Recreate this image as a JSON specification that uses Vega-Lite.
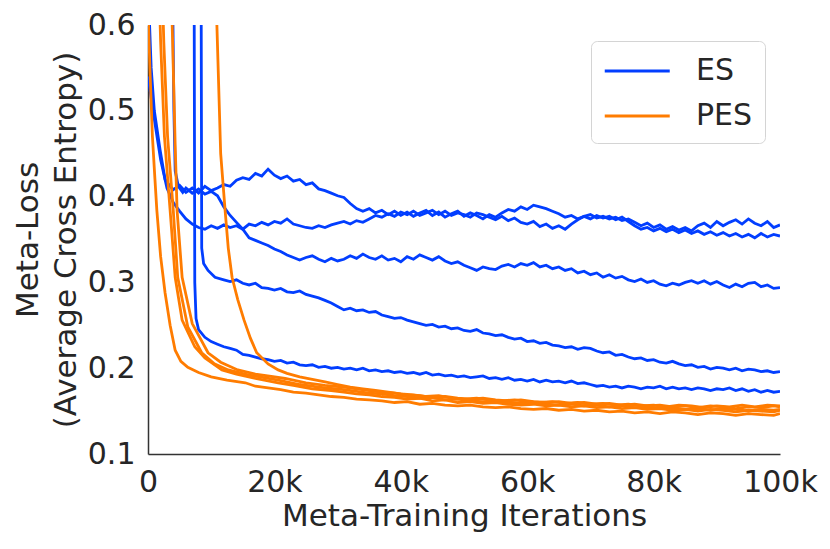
{
  "$schema": "https://vega.github.io/schema/vega-lite/v6.json",
  "width": 632,
  "height": 429,
  "autosize": {"type": "none"},
  "padding": {"left": 148, "top": 25, "right": 50, "bottom": 95},
  "background": "white",
  "config": {
    "view": {"stroke": null},
    "font": "DejaVu Sans",
    "axis": {
      "grid": false,
      "ticks": false,
      "domainColor": "#333333",
      "domainWidth": 1.5,
      "labelFontSize": 30,
      "titleFontSize": 31,
      "labelColor": "#262626",
      "titleColor": "#262626",
      "titleFontWeight": "normal",
      "labelFlush": false
    }
  },
  "datasets": {
    "es": [
      {"s":"a","x":0,"y":0.65},{"s":"a","x":0.5,"y":0.55},{"s":"a","x":1,"y":0.5},{"s":"a","x":1.9,"y":0.455},{"s":"a","x":2.7,"y":0.42},{"s":"a","x":3.5,"y":0.412},{"s":"a","x":4,"y":0.408},{"s":"a","x":5,"y":0.413},{"s":"a","x":6,"y":0.405},{"s":"a","x":7,"y":0.41},{"s":"a","x":8,"y":0.404},{"s":"a","x":9,"y":0.412},{"s":"a","x":10,"y":0.407},{"s":"a","x":11,"y":0.41},{"s":"a","x":12,"y":0.414},{"s":"a","x":13,"y":0.412},{"s":"a","x":14,"y":0.419},{"s":"a","x":15,"y":0.422},{"s":"a","x":16,"y":0.42},{"s":"a","x":17,"y":0.427},{"s":"a","x":18,"y":0.424},{"s":"a","x":19,"y":0.432},{"s":"a","x":20,"y":0.425},{"s":"a","x":21,"y":0.421},{"s":"a","x":22,"y":0.424},{"s":"a","x":23,"y":0.418},{"s":"a","x":24,"y":0.42},{"s":"a","x":25,"y":0.414},{"s":"a","x":26,"y":0.416},{"s":"a","x":27,"y":0.409},{"s":"a","x":28,"y":0.407},{"s":"a","x":29,"y":0.404},{"s":"a","x":30,"y":0.401},{"s":"a","x":31,"y":0.399},{"s":"a","x":32,"y":0.392},{"s":"a","x":33,"y":0.386},{"s":"a","x":34,"y":0.383},{"s":"a","x":35,"y":0.386},{"s":"a","x":36,"y":0.381},{"s":"a","x":37,"y":0.384},{"s":"a","x":38,"y":0.379},{"s":"a","x":39,"y":0.383},{"s":"a","x":40,"y":0.378},{"s":"a","x":41,"y":0.382},{"s":"a","x":42,"y":0.377},{"s":"a","x":43,"y":0.381},{"s":"a","x":44,"y":0.384},{"s":"a","x":45,"y":0.378},{"s":"a","x":46,"y":0.382},{"s":"a","x":47,"y":0.376},{"s":"a","x":48,"y":0.38},{"s":"a","x":49,"y":0.383},{"s":"a","x":50,"y":0.377},{"s":"a","x":51,"y":0.381},{"s":"a","x":52,"y":0.378},{"s":"a","x":53,"y":0.374},{"s":"a","x":54,"y":0.379},{"s":"a","x":55,"y":0.376},{"s":"a","x":56,"y":0.381},{"s":"a","x":57,"y":0.385},{"s":"a","x":58,"y":0.383},{"s":"a","x":59,"y":0.388},{"s":"a","x":60,"y":0.385},{"s":"a","x":61,"y":0.39},{"s":"a","x":62,"y":0.388},{"s":"a","x":63,"y":0.386},{"s":"a","x":64,"y":0.383},{"s":"a","x":65,"y":0.38},{"s":"a","x":66,"y":0.376},{"s":"a","x":67,"y":0.378},{"s":"a","x":68,"y":0.374},{"s":"a","x":69,"y":0.377},{"s":"a","x":70,"y":0.379},{"s":"a","x":71,"y":0.375},{"s":"a","x":72,"y":0.377},{"s":"a","x":73,"y":0.374},{"s":"a","x":74,"y":0.376},{"s":"a","x":75,"y":0.372},{"s":"a","x":76,"y":0.374},{"s":"a","x":77,"y":0.37},{"s":"a","x":78,"y":0.366},{"s":"a","x":79,"y":0.369},{"s":"a","x":80,"y":0.364},{"s":"a","x":81,"y":0.367},{"s":"a","x":82,"y":0.362},{"s":"a","x":83,"y":0.365},{"s":"a","x":84,"y":0.361},{"s":"a","x":85,"y":0.364},{"s":"a","x":86,"y":0.36},{"s":"a","x":87,"y":0.366},{"s":"a","x":88,"y":0.369},{"s":"a","x":89,"y":0.364},{"s":"a","x":90,"y":0.371},{"s":"a","x":91,"y":0.366},{"s":"a","x":92,"y":0.37},{"s":"a","x":93,"y":0.373},{"s":"a","x":94,"y":0.368},{"s":"a","x":95,"y":0.374},{"s":"a","x":96,"y":0.369},{"s":"a","x":97,"y":0.366},{"s":"a","x":98,"y":0.371},{"s":"a","x":99,"y":0.364},{"s":"a","x":100,"y":0.367},
      {"s":"b","x":0,"y":0.54},{"s":"b","x":1,"y":0.49},{"s":"b","x":2,"y":0.443},{"s":"b","x":3,"y":0.41},{"s":"b","x":4,"y":0.393},{"s":"b","x":5,"y":0.383},{"s":"b","x":6,"y":0.374},{"s":"b","x":7,"y":0.368},{"s":"b","x":8,"y":0.364},{"s":"b","x":9,"y":0.362},{"s":"b","x":10,"y":0.366},{"s":"b","x":11,"y":0.363},{"s":"b","x":12,"y":0.367},{"s":"b","x":13,"y":0.364},{"s":"b","x":14,"y":0.366},{"s":"b","x":15,"y":0.362},{"s":"b","x":16,"y":0.368},{"s":"b","x":17,"y":0.366},{"s":"b","x":18,"y":0.37},{"s":"b","x":19,"y":0.367},{"s":"b","x":20,"y":0.371},{"s":"b","x":21,"y":0.369},{"s":"b","x":22,"y":0.374},{"s":"b","x":23,"y":0.368},{"s":"b","x":24,"y":0.366},{"s":"b","x":25,"y":0.364},{"s":"b","x":26,"y":0.363},{"s":"b","x":27,"y":0.366},{"s":"b","x":28,"y":0.364},{"s":"b","x":29,"y":0.367},{"s":"b","x":30,"y":0.369},{"s":"b","x":31,"y":0.371},{"s":"b","x":32,"y":0.368},{"s":"b","x":33,"y":0.372},{"s":"b","x":34,"y":0.37},{"s":"b","x":35,"y":0.374},{"s":"b","x":36,"y":0.378},{"s":"b","x":37,"y":0.376},{"s":"b","x":38,"y":0.38},{"s":"b","x":39,"y":0.377},{"s":"b","x":40,"y":0.382},{"s":"b","x":41,"y":0.379},{"s":"b","x":42,"y":0.383},{"s":"b","x":43,"y":0.378},{"s":"b","x":44,"y":0.381},{"s":"b","x":45,"y":0.384},{"s":"b","x":46,"y":0.379},{"s":"b","x":47,"y":0.383},{"s":"b","x":48,"y":0.378},{"s":"b","x":49,"y":0.381},{"s":"b","x":50,"y":0.379},{"s":"b","x":51,"y":0.376},{"s":"b","x":52,"y":0.381},{"s":"b","x":53,"y":0.379},{"s":"b","x":54,"y":0.376},{"s":"b","x":55,"y":0.373},{"s":"b","x":56,"y":0.377},{"s":"b","x":57,"y":0.372},{"s":"b","x":58,"y":0.375},{"s":"b","x":59,"y":0.37},{"s":"b","x":60,"y":0.368},{"s":"b","x":61,"y":0.371},{"s":"b","x":62,"y":0.365},{"s":"b","x":63,"y":0.368},{"s":"b","x":64,"y":0.363},{"s":"b","x":65,"y":0.366},{"s":"b","x":66,"y":0.362},{"s":"b","x":67,"y":0.368},{"s":"b","x":68,"y":0.373},{"s":"b","x":69,"y":0.377},{"s":"b","x":70,"y":0.374},{"s":"b","x":71,"y":0.378},{"s":"b","x":72,"y":0.375},{"s":"b","x":73,"y":0.377},{"s":"b","x":74,"y":0.373},{"s":"b","x":75,"y":0.376},{"s":"b","x":76,"y":0.371},{"s":"b","x":77,"y":0.366},{"s":"b","x":78,"y":0.362},{"s":"b","x":79,"y":0.364},{"s":"b","x":80,"y":0.36},{"s":"b","x":81,"y":0.363},{"s":"b","x":82,"y":0.359},{"s":"b","x":83,"y":0.362},{"s":"b","x":84,"y":0.358},{"s":"b","x":85,"y":0.361},{"s":"b","x":86,"y":0.357},{"s":"b","x":87,"y":0.36},{"s":"b","x":88,"y":0.356},{"s":"b","x":89,"y":0.359},{"s":"b","x":90,"y":0.355},{"s":"b","x":91,"y":0.358},{"s":"b","x":92,"y":0.354},{"s":"b","x":93,"y":0.357},{"s":"b","x":94,"y":0.353},{"s":"b","x":95,"y":0.356},{"s":"b","x":96,"y":0.352},{"s":"b","x":97,"y":0.357},{"s":"b","x":98,"y":0.353},{"s":"b","x":99,"y":0.356},{"s":"b","x":100,"y":0.354},
      {"s":"c","x":3.8,"y":0.7},{"s":"c","x":4.1,"y":0.5},{"s":"c","x":4.3,"y":0.43},{"s":"c","x":4.8,"y":0.412},{"s":"c","x":5.5,"y":0.405},{"s":"c","x":6,"y":0.41},{"s":"c","x":7,"y":0.404},{"s":"c","x":8,"y":0.409},{"s":"c","x":9,"y":0.403},{"s":"c","x":10,"y":0.406},{"s":"c","x":11,"y":0.401},{"s":"c","x":12,"y":0.388},{"s":"c","x":13,"y":0.378},{"s":"c","x":14,"y":0.37},{"s":"c","x":15,"y":0.362},{"s":"c","x":16,"y":0.352},{"s":"c","x":17,"y":0.349},{"s":"c","x":18,"y":0.346},{"s":"c","x":19,"y":0.343},{"s":"c","x":20,"y":0.339},{"s":"c","x":21,"y":0.336},{"s":"c","x":22,"y":0.332},{"s":"c","x":23,"y":0.329},{"s":"c","x":24,"y":0.326},{"s":"c","x":25,"y":0.329},{"s":"c","x":26,"y":0.331},{"s":"c","x":27,"y":0.327},{"s":"c","x":28,"y":0.324},{"s":"c","x":29,"y":0.328},{"s":"c","x":30,"y":0.325},{"s":"c","x":31,"y":0.327},{"s":"c","x":32,"y":0.331},{"s":"c","x":33,"y":0.328},{"s":"c","x":34,"y":0.333},{"s":"c","x":35,"y":0.329},{"s":"c","x":36,"y":0.327},{"s":"c","x":37,"y":0.331},{"s":"c","x":38,"y":0.326},{"s":"c","x":39,"y":0.328},{"s":"c","x":40,"y":0.324},{"s":"c","x":41,"y":0.33},{"s":"c","x":42,"y":0.327},{"s":"c","x":43,"y":0.332},{"s":"c","x":44,"y":0.329},{"s":"c","x":45,"y":0.326},{"s":"c","x":46,"y":0.33},{"s":"c","x":47,"y":0.325},{"s":"c","x":48,"y":0.322},{"s":"c","x":49,"y":0.324},{"s":"c","x":50,"y":0.32},{"s":"c","x":51,"y":0.317},{"s":"c","x":52,"y":0.314},{"s":"c","x":53,"y":0.318},{"s":"c","x":54,"y":0.316},{"s":"c","x":55,"y":0.315},{"s":"c","x":56,"y":0.319},{"s":"c","x":57,"y":0.321},{"s":"c","x":58,"y":0.318},{"s":"c","x":59,"y":0.322},{"s":"c","x":60,"y":0.32},{"s":"c","x":61,"y":0.323},{"s":"c","x":62,"y":0.318},{"s":"c","x":63,"y":0.32},{"s":"c","x":64,"y":0.316},{"s":"c","x":65,"y":0.318},{"s":"c","x":66,"y":0.314},{"s":"c","x":67,"y":0.316},{"s":"c","x":68,"y":0.311},{"s":"c","x":69,"y":0.313},{"s":"c","x":70,"y":0.309},{"s":"c","x":71,"y":0.311},{"s":"c","x":72,"y":0.306},{"s":"c","x":73,"y":0.309},{"s":"c","x":74,"y":0.305},{"s":"c","x":75,"y":0.307},{"s":"c","x":76,"y":0.303},{"s":"c","x":77,"y":0.301},{"s":"c","x":78,"y":0.304},{"s":"c","x":79,"y":0.3},{"s":"c","x":80,"y":0.302},{"s":"c","x":81,"y":0.298},{"s":"c","x":82,"y":0.296},{"s":"c","x":83,"y":0.299},{"s":"c","x":84,"y":0.297},{"s":"c","x":85,"y":0.3},{"s":"c","x":86,"y":0.302},{"s":"c","x":87,"y":0.299},{"s":"c","x":88,"y":0.302},{"s":"c","x":89,"y":0.298},{"s":"c","x":90,"y":0.301},{"s":"c","x":91,"y":0.297},{"s":"c","x":92,"y":0.294},{"s":"c","x":93,"y":0.298},{"s":"c","x":94,"y":0.295},{"s":"c","x":95,"y":0.299},{"s":"c","x":96,"y":0.3},{"s":"c","x":97,"y":0.295},{"s":"c","x":98,"y":0.297},{"s":"c","x":99,"y":0.293},{"s":"c","x":100,"y":0.294},
      {"s":"d","x":8.3,"y":1.0},{"s":"d","x":8.5,"y":0.34},{"s":"d","x":8.8,"y":0.322},{"s":"d","x":9.5,"y":0.314},{"s":"d","x":10.6,"y":0.306},{"s":"d","x":12,"y":0.303},{"s":"d","x":13,"y":0.301},{"s":"d","x":14,"y":0.303},{"s":"d","x":15,"y":0.299},{"s":"d","x":16,"y":0.297},{"s":"d","x":17,"y":0.299},{"s":"d","x":18,"y":0.294},{"s":"d","x":19,"y":0.293},{"s":"d","x":20,"y":0.291},{"s":"d","x":21,"y":0.293},{"s":"d","x":22,"y":0.289},{"s":"d","x":23,"y":0.288},{"s":"d","x":24,"y":0.29},{"s":"d","x":25,"y":0.286},{"s":"d","x":26,"y":0.284},{"s":"d","x":27,"y":0.282},{"s":"d","x":28,"y":0.279},{"s":"d","x":29,"y":0.276},{"s":"d","x":30,"y":0.272},{"s":"d","x":31,"y":0.268},{"s":"d","x":32,"y":0.27},{"s":"d","x":33,"y":0.267},{"s":"d","x":34,"y":0.268},{"s":"d","x":35,"y":0.265},{"s":"d","x":36,"y":0.266},{"s":"d","x":37,"y":0.262},{"s":"d","x":38,"y":0.26},{"s":"d","x":39,"y":0.258},{"s":"d","x":40,"y":0.259},{"s":"d","x":41,"y":0.256},{"s":"d","x":42,"y":0.254},{"s":"d","x":43,"y":0.252},{"s":"d","x":44,"y":0.25},{"s":"d","x":45,"y":0.251},{"s":"d","x":46,"y":0.248},{"s":"d","x":47,"y":0.249},{"s":"d","x":48,"y":0.246},{"s":"d","x":49,"y":0.247},{"s":"d","x":50,"y":0.244},{"s":"d","x":51,"y":0.243},{"s":"d","x":52,"y":0.245},{"s":"d","x":53,"y":0.241},{"s":"d","x":54,"y":0.24},{"s":"d","x":55,"y":0.238},{"s":"d","x":56,"y":0.239},{"s":"d","x":57,"y":0.236},{"s":"d","x":58,"y":0.234},{"s":"d","x":59,"y":0.235},{"s":"d","x":60,"y":0.231},{"s":"d","x":61,"y":0.232},{"s":"d","x":62,"y":0.229},{"s":"d","x":63,"y":0.23},{"s":"d","x":64,"y":0.227},{"s":"d","x":65,"y":0.226},{"s":"d","x":66,"y":0.224},{"s":"d","x":67,"y":0.225},{"s":"d","x":68,"y":0.222},{"s":"d","x":69,"y":0.224},{"s":"d","x":70,"y":0.223},{"s":"d","x":71,"y":0.22},{"s":"d","x":72,"y":0.218},{"s":"d","x":73,"y":0.219},{"s":"d","x":74,"y":0.215},{"s":"d","x":75,"y":0.216},{"s":"d","x":76,"y":0.213},{"s":"d","x":77,"y":0.211},{"s":"d","x":78,"y":0.212},{"s":"d","x":79,"y":0.209},{"s":"d","x":80,"y":0.21},{"s":"d","x":81,"y":0.207},{"s":"d","x":82,"y":0.206},{"s":"d","x":83,"y":0.208},{"s":"d","x":84,"y":0.205},{"s":"d","x":85,"y":0.203},{"s":"d","x":86,"y":0.204},{"s":"d","x":87,"y":0.201},{"s":"d","x":88,"y":0.202},{"s":"d","x":89,"y":0.199},{"s":"d","x":90,"y":0.201},{"s":"d","x":91,"y":0.2},{"s":"d","x":92,"y":0.198},{"s":"d","x":93,"y":0.2},{"s":"d","x":94,"y":0.197},{"s":"d","x":95,"y":0.199},{"s":"d","x":96,"y":0.198},{"s":"d","x":97,"y":0.196},{"s":"d","x":98,"y":0.197},{"s":"d","x":99,"y":0.195},{"s":"d","x":100,"y":0.196},
      {"s":"e","x":7.2,"y":1.0},{"s":"e","x":7.4,"y":0.3},{"s":"e","x":7.6,"y":0.258},{"s":"e","x":8,"y":0.245},{"s":"e","x":9,"y":0.236},{"s":"e","x":10,"y":0.231},{"s":"e","x":11,"y":0.228},{"s":"e","x":12,"y":0.225},{"s":"e","x":13,"y":0.223},{"s":"e","x":14,"y":0.221},{"s":"e","x":15,"y":0.216},{"s":"e","x":16,"y":0.215},{"s":"e","x":17,"y":0.213},{"s":"e","x":18,"y":0.211},{"s":"e","x":19,"y":0.21},{"s":"e","x":20,"y":0.208},{"s":"e","x":21,"y":0.209},{"s":"e","x":22,"y":0.206},{"s":"e","x":23,"y":0.207},{"s":"e","x":24,"y":0.204},{"s":"e","x":25,"y":0.203},{"s":"e","x":26,"y":0.204},{"s":"e","x":27,"y":0.201},{"s":"e","x":28,"y":0.202},{"s":"e","x":29,"y":0.2},{"s":"e","x":30,"y":0.201},{"s":"e","x":31,"y":0.199},{"s":"e","x":32,"y":0.2},{"s":"e","x":33,"y":0.198},{"s":"e","x":34,"y":0.2},{"s":"e","x":35,"y":0.197},{"s":"e","x":36,"y":0.198},{"s":"e","x":37,"y":0.196},{"s":"e","x":38,"y":0.197},{"s":"e","x":39,"y":0.195},{"s":"e","x":40,"y":0.196},{"s":"e","x":41,"y":0.194},{"s":"e","x":42,"y":0.195},{"s":"e","x":43,"y":0.193},{"s":"e","x":44,"y":0.195},{"s":"e","x":45,"y":0.192},{"s":"e","x":46,"y":0.193},{"s":"e","x":47,"y":0.191},{"s":"e","x":48,"y":0.192},{"s":"e","x":49,"y":0.19},{"s":"e","x":50,"y":0.191},{"s":"e","x":51,"y":0.189},{"s":"e","x":52,"y":0.19},{"s":"e","x":53,"y":0.191},{"s":"e","x":54,"y":0.188},{"s":"e","x":55,"y":0.189},{"s":"e","x":56,"y":0.187},{"s":"e","x":57,"y":0.189},{"s":"e","x":58,"y":0.186},{"s":"e","x":59,"y":0.187},{"s":"e","x":60,"y":0.185},{"s":"e","x":61,"y":0.187},{"s":"e","x":62,"y":0.184},{"s":"e","x":63,"y":0.186},{"s":"e","x":64,"y":0.184},{"s":"e","x":65,"y":0.185},{"s":"e","x":66,"y":0.183},{"s":"e","x":67,"y":0.185},{"s":"e","x":68,"y":0.182},{"s":"e","x":69,"y":0.183},{"s":"e","x":70,"y":0.181},{"s":"e","x":71,"y":0.179},{"s":"e","x":72,"y":0.18},{"s":"e","x":73,"y":0.178},{"s":"e","x":74,"y":0.179},{"s":"e","x":75,"y":0.177},{"s":"e","x":76,"y":0.179},{"s":"e","x":77,"y":0.178},{"s":"e","x":78,"y":0.176},{"s":"e","x":79,"y":0.178},{"s":"e","x":80,"y":0.177},{"s":"e","x":81,"y":0.179},{"s":"e","x":82,"y":0.176},{"s":"e","x":83,"y":0.178},{"s":"e","x":84,"y":0.176},{"s":"e","x":85,"y":0.177},{"s":"e","x":86,"y":0.175},{"s":"e","x":87,"y":0.177},{"s":"e","x":88,"y":0.176},{"s":"e","x":89,"y":0.174},{"s":"e","x":90,"y":0.176},{"s":"e","x":91,"y":0.175},{"s":"e","x":92,"y":0.177},{"s":"e","x":93,"y":0.174},{"s":"e","x":94,"y":0.176},{"s":"e","x":95,"y":0.173},{"s":"e","x":96,"y":0.175},{"s":"e","x":97,"y":0.172},{"s":"e","x":98,"y":0.174},{"s":"e","x":99,"y":0.172},{"s":"e","x":100,"y":0.173}
    ],
    "pes": [
      {"s":"f","x":0,"y":0.62},{"s":"f","x":0.3,"y":0.55},{"s":"f","x":0.7,"y":0.47},{"s":"f","x":1.1,"y":0.42},{"s":"f","x":1.4,"y":0.384},{"s":"f","x":2,"y":0.33},{"s":"f","x":2.7,"y":0.288},{"s":"f","x":3.5,"y":0.25},{"s":"f","x":4.3,"y":0.221},{"s":"f","x":5.2,"y":0.208},{"s":"f","x":6.3,"y":0.201},{"s":"f","x":8,"y":0.195},{"s":"f","x":10,"y":0.19},{"s":"f","x":12.5,"y":0.186},{"s":"f","x":15.4,"y":0.183},{"s":"f","x":17,"y":0.179},{"s":"f","x":19,"y":0.177},{"s":"f","x":21,"y":0.175},{"s":"f","x":23,"y":0.172},{"s":"f","x":25,"y":0.171},{"s":"f","x":27,"y":0.169},{"s":"f","x":29,"y":0.167},{"s":"f","x":31,"y":0.166},{"s":"f","x":33,"y":0.164},{"s":"f","x":35,"y":0.163},{"s":"f","x":37,"y":0.162},{"s":"f","x":39,"y":0.16},{"s":"f","x":41,"y":0.161},{"s":"f","x":43,"y":0.158},{"s":"f","x":45,"y":0.159},{"s":"f","x":47,"y":0.157},{"s":"f","x":49,"y":0.156},{"s":"f","x":51,"y":0.157},{"s":"f","x":53,"y":0.155},{"s":"f","x":55,"y":0.154},{"s":"f","x":57,"y":0.155},{"s":"f","x":59,"y":0.153},{"s":"f","x":61,"y":0.152},{"s":"f","x":63,"y":0.153},{"s":"f","x":65,"y":0.151},{"s":"f","x":67,"y":0.152},{"s":"f","x":69,"y":0.15},{"s":"f","x":71,"y":0.151},{"s":"f","x":73,"y":0.149},{"s":"f","x":75,"y":0.15},{"s":"f","x":77,"y":0.148},{"s":"f","x":79,"y":0.149},{"s":"f","x":81,"y":0.147},{"s":"f","x":83,"y":0.149},{"s":"f","x":85,"y":0.148},{"s":"f","x":87,"y":0.146},{"s":"f","x":89,"y":0.148},{"s":"f","x":91,"y":0.147},{"s":"f","x":93,"y":0.145},{"s":"f","x":95,"y":0.147},{"s":"f","x":97,"y":0.146},{"s":"f","x":99,"y":0.145},{"s":"f","x":100,"y":0.147},
      {"s":"g","x":1.7,"y":0.66},{"s":"g","x":2,"y":0.58},{"s":"g","x":2.6,"y":0.47},{"s":"g","x":3.5,"y":0.384},{"s":"g","x":4.3,"y":0.306},{"s":"g","x":5.4,"y":0.256},{"s":"g","x":7.4,"y":0.225},{"s":"g","x":9,"y":0.212},{"s":"g","x":11.7,"y":0.198},{"s":"g","x":14,"y":0.193},{"s":"g","x":17,"y":0.188},{"s":"g","x":20.6,"y":0.183},{"s":"g","x":23,"y":0.18},{"s":"g","x":26,"y":0.176},{"s":"g","x":29,"y":0.174},{"s":"g","x":31,"y":0.172},{"s":"g","x":33,"y":0.17},{"s":"g","x":35,"y":0.169},{"s":"g","x":37,"y":0.167},{"s":"g","x":39,"y":0.166},{"s":"g","x":41,"y":0.164},{"s":"g","x":43,"y":0.165},{"s":"g","x":45,"y":0.162},{"s":"g","x":47,"y":0.163},{"s":"g","x":49,"y":0.16},{"s":"g","x":51,"y":0.161},{"s":"g","x":53,"y":0.159},{"s":"g","x":55,"y":0.16},{"s":"g","x":57,"y":0.158},{"s":"g","x":59,"y":0.157},{"s":"g","x":61,"y":0.158},{"s":"g","x":63,"y":0.156},{"s":"g","x":65,"y":0.157},{"s":"g","x":67,"y":0.155},{"s":"g","x":69,"y":0.156},{"s":"g","x":71,"y":0.154},{"s":"g","x":73,"y":0.155},{"s":"g","x":75,"y":0.153},{"s":"g","x":77,"y":0.154},{"s":"g","x":79,"y":0.152},{"s":"g","x":81,"y":0.153},{"s":"g","x":83,"y":0.151},{"s":"g","x":85,"y":0.152},{"s":"g","x":87,"y":0.15},{"s":"g","x":89,"y":0.152},{"s":"g","x":91,"y":0.151},{"s":"g","x":93,"y":0.149},{"s":"g","x":95,"y":0.151},{"s":"g","x":97,"y":0.15},{"s":"g","x":99,"y":0.149},{"s":"g","x":100,"y":0.151},
      {"s":"h","x":2.2,"y":0.66},{"s":"h","x":2.5,"y":0.58},{"s":"h","x":3.1,"y":0.47},{"s":"h","x":4,"y":0.384},{"s":"h","x":4.7,"y":0.306},{"s":"h","x":6.3,"y":0.248},{"s":"h","x":8.5,"y":0.218},{"s":"h","x":10.5,"y":0.205},{"s":"h","x":12.7,"y":0.198},{"s":"h","x":16,"y":0.192},{"s":"h","x":20.6,"y":0.186},{"s":"h","x":24,"y":0.181},{"s":"h","x":27,"y":0.178},{"s":"h","x":31,"y":0.175},{"s":"h","x":33,"y":0.173},{"s":"h","x":35,"y":0.171},{"s":"h","x":37,"y":0.17},{"s":"h","x":39,"y":0.168},{"s":"h","x":41,"y":0.167},{"s":"h","x":43,"y":0.165},{"s":"h","x":45,"y":0.166},{"s":"h","x":47,"y":0.163},{"s":"h","x":49,"y":0.164},{"s":"h","x":51,"y":0.162},{"s":"h","x":53,"y":0.161},{"s":"h","x":55,"y":0.162},{"s":"h","x":57,"y":0.16},{"s":"h","x":59,"y":0.159},{"s":"h","x":61,"y":0.16},{"s":"h","x":63,"y":0.158},{"s":"h","x":65,"y":0.157},{"s":"h","x":67,"y":0.158},{"s":"h","x":69,"y":0.156},{"s":"h","x":71,"y":0.157},{"s":"h","x":73,"y":0.155},{"s":"h","x":75,"y":0.156},{"s":"h","x":77,"y":0.154},{"s":"h","x":79,"y":0.155},{"s":"h","x":81,"y":0.153},{"s":"h","x":83,"y":0.154},{"s":"h","x":85,"y":0.152},{"s":"h","x":87,"y":0.153},{"s":"h","x":89,"y":0.151},{"s":"h","x":91,"y":0.153},{"s":"h","x":93,"y":0.152},{"s":"h","x":95,"y":0.15},{"s":"h","x":97,"y":0.152},{"s":"h","x":99,"y":0.151},{"s":"h","x":100,"y":0.152},
      {"s":"i","x":3.6,"y":0.66},{"s":"i","x":3.9,"y":0.58},{"s":"i","x":4.3,"y":0.46},{"s":"i","x":4.6,"y":0.384},{"s":"i","x":5.4,"y":0.306},{"s":"i","x":7,"y":0.252},{"s":"i","x":9.5,"y":0.218},{"s":"i","x":11.5,"y":0.207},{"s":"i","x":14.2,"y":0.198},{"s":"i","x":17,"y":0.193},{"s":"i","x":21.7,"y":0.188},{"s":"i","x":25,"y":0.183},{"s":"i","x":28,"y":0.18},{"s":"i","x":31,"y":0.178},{"s":"i","x":33,"y":0.176},{"s":"i","x":35,"y":0.174},{"s":"i","x":37,"y":0.172},{"s":"i","x":39,"y":0.171},{"s":"i","x":41,"y":0.169},{"s":"i","x":43,"y":0.168},{"s":"i","x":45,"y":0.166},{"s":"i","x":47,"y":0.167},{"s":"i","x":49,"y":0.165},{"s":"i","x":51,"y":0.164},{"s":"i","x":53,"y":0.165},{"s":"i","x":55,"y":0.163},{"s":"i","x":57,"y":0.162},{"s":"i","x":59,"y":0.163},{"s":"i","x":61,"y":0.161},{"s":"i","x":63,"y":0.16},{"s":"i","x":65,"y":0.161},{"s":"i","x":67,"y":0.159},{"s":"i","x":69,"y":0.16},{"s":"i","x":71,"y":0.158},{"s":"i","x":73,"y":0.159},{"s":"i","x":75,"y":0.157},{"s":"i","x":77,"y":0.158},{"s":"i","x":79,"y":0.156},{"s":"i","x":81,"y":0.157},{"s":"i","x":83,"y":0.155},{"s":"i","x":85,"y":0.156},{"s":"i","x":87,"y":0.154},{"s":"i","x":89,"y":0.156},{"s":"i","x":91,"y":0.155},{"s":"i","x":93,"y":0.153},{"s":"i","x":95,"y":0.155},{"s":"i","x":97,"y":0.154},{"s":"i","x":99,"y":0.156},{"s":"i","x":100,"y":0.155},
      {"s":"j","x":10.7,"y":0.7},{"s":"j","x":10.9,"y":0.6},{"s":"j","x":11.5,"y":0.45},{"s":"j","x":12.2,"y":0.384},{"s":"j","x":12.7,"y":0.34},{"s":"j","x":13.3,"y":0.306},{"s":"j","x":14.2,"y":0.28},{"s":"j","x":15.2,"y":0.256},{"s":"j","x":16.2,"y":0.235},{"s":"j","x":17.2,"y":0.218},{"s":"j","x":19,"y":0.205},{"s":"j","x":20.6,"y":0.198},{"s":"j","x":22,"y":0.194},{"s":"j","x":24,"y":0.19},{"s":"j","x":26,"y":0.187},{"s":"j","x":28,"y":0.184},{"s":"j","x":30,"y":0.181},{"s":"j","x":32,"y":0.178},{"s":"j","x":34,"y":0.176},{"s":"j","x":36,"y":0.174},{"s":"j","x":38,"y":0.172},{"s":"j","x":40,"y":0.17},{"s":"j","x":42,"y":0.169},{"s":"j","x":44,"y":0.167},{"s":"j","x":46,"y":0.168},{"s":"j","x":48,"y":0.165},{"s":"j","x":50,"y":0.164},{"s":"j","x":52,"y":0.165},{"s":"j","x":54,"y":0.163},{"s":"j","x":56,"y":0.162},{"s":"j","x":58,"y":0.163},{"s":"j","x":60,"y":0.161},{"s":"j","x":62,"y":0.16},{"s":"j","x":64,"y":0.161},{"s":"j","x":66,"y":0.159},{"s":"j","x":68,"y":0.16},{"s":"j","x":70,"y":0.158},{"s":"j","x":72,"y":0.159},{"s":"j","x":74,"y":0.157},{"s":"j","x":76,"y":0.158},{"s":"j","x":78,"y":0.156},{"s":"j","x":80,"y":0.157},{"s":"j","x":82,"y":0.155},{"s":"j","x":84,"y":0.157},{"s":"j","x":86,"y":0.156},{"s":"j","x":88,"y":0.154},{"s":"j","x":90,"y":0.156},{"s":"j","x":92,"y":0.155},{"s":"j","x":94,"y":0.157},{"s":"j","x":96,"y":0.155},{"s":"j","x":98,"y":0.157},{"s":"j","x":100,"y":0.156}
    ]
  },
  "encoding": {
    "x": {
      "field": "x",
      "type": "quantitative",
      "scale": {"domain": [0, 100], "nice": false},
      "axis": {
        "title": "Meta-Training Iterations",
        "values": [0, 20, 40, 60, 80, 100],
        "labelExpr": "datum.value == 0 ? '0' : datum.value + 'k'",
        "labelPadding": 13,
        "titlePadding": 4
      }
    },
    "y": {
      "field": "y",
      "type": "quantitative",
      "scale": {"domain": [0.1, 0.6], "nice": false, "zero": false},
      "axis": {
        "title": ["Meta-Loss", "(Average Cross Entropy)"],
        "values": [0.1, 0.2, 0.3, 0.4, 0.5, 0.6],
        "format": ".1f",
        "labelPadding": 13,
        "titlePadding": 5,
        "titleLineHeight": 38
      }
    },
    "color": {
      "datum": "ES",
      "scale": {"domain": ["ES", "PES"], "range": ["#023eff", "#ff7c00"]},
      "legend": {
        "title": null,
        "orient": "none",
        "legendX": 443,
        "legendY": 16,
        "padding": 12,
        "strokeColor": "#d4d4d4",
        "cornerRadius": 6,
        "fillColor": "white",
        "symbolType": "M-1,0H3",
        "symbolSize": 1056,
        "symbolStrokeWidth": 2.8,
        "labelFontSize": 30,
        "labelColor": "#262626",
        "labelOffset": 57,
        "rowPadding": 12
      }
    },
    "detail": {"field": "s"}
  },
  "layer": [
    {
      "data": {"name": "es"},
      "mark": {"type": "line", "strokeWidth": 2.8, "clip": true}
    },
    {
      "data": {"name": "pes"},
      "mark": {"type": "line", "strokeWidth": 2.8, "clip": true},
      "encoding": {"color": {"datum": "PES"}}
    }
  ]
}
